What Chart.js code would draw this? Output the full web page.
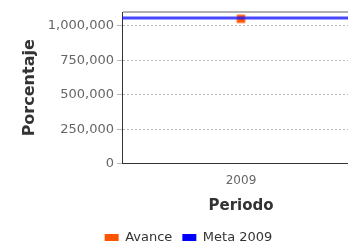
<!DOCTYPE html>
<html>
<head>
<meta charset="utf-8">
<script src="https://cdn.jsdelivr.net/npm/chart.js@4/dist/chart.umd.min.js"></script>
<style>
    html, body { margin: 0; padding: 0; background: #fff; overflow: hidden; }
    #wrap { width: 377px; height: 244px; position: relative; }
</style>
</head>
<body>
<div id="wrap"><canvas id="grafico"></canvas></div>
<script>
// Datos del gráfico
const periodos = ['', '2009', ''];
const avance = [null, 1050000, null];
const metaValor = 1056000;
const yTicks = [0, 250000, 500000, 750000, 1000000];
const yMax = 1100000;

const meta = periodos.map(() => metaValor);

Chart.defaults.font.family = '"DejaVu Sans", Verdana, sans-serif';
Chart.defaults.font.size = 12;

const ctx = document.getElementById('grafico').getContext('2d');
new Chart(ctx, {
    type: 'line',
    data: {
        labels: periodos,
        datasets: [{
            label: 'Avance',
            data: avance,
            showLine: false,
            pointStyle: 'rect',
            pointRadius: 5.6,
            backgroundColor: '#ff5500',
            borderColor: '#ff8a50',
            borderWidth: 1,
            order: 1
        }, {
            label: 'Meta 2009',
            data: meta,
            pointRadius: 0,
            borderWidth: 3,
            borderColor: 'rgba(25, 25, 255, 0.8)',
            backgroundColor: '#0000ff',
            order: 0
        }]
    },
    options: {
        responsive: true,
        maintainAspectRatio: false,
        animation: false,
        layout: { padding: { top: 12, right: 17, left: 17, bottom: -10 } },
        scales: {
            x: {
                offset: false,
                grid: { display: false, drawTicks: false },
                border: { display: true, color: '#333', width: 1 },
                ticks: { color: '#666', padding: 10, maxRotation: 0, autoSkip: false, font: { size: 12 } },
                title: {
                    display: true,
                    text: 'Periodo',
                    color: '#333',
                    font: { size: 15, weight: 'bold' },
                    padding: { top: -1, bottom: 6 }
                }
            },
            y: {
                min: 0,
                max: yMax,
                afterFit: scale => { scale.width = 105; },
                afterBuildTicks: scale => {
                    scale.ticks = yTicks.concat([yMax]).map(v => ({ value: v }));
                },
                grid: {
                    color: c => c.tick && c.tick.value === yMax ? '#b0b0b0' : '#b8b8b8',
                    lineWidth: c => c.tick && c.tick.value === yMax ? 2 : 1,
                    tickColor: c => c.tick && c.tick.value === yMax ? 'rgba(0,0,0,0)' : '#b8b8b8',
                    tickLength: 5
                },
                border: {
                    display: true,
                    color: '#333',
                    width: 1,
                    dash: c => c.type === 'tick' && c.tick && c.tick.value !== yMax ? [2, 2] : []
                },
                ticks: {
                    color: '#666',
                    padding: 3,
                    font: { size: 13 },
                    callback: v => v === yMax ? '' : v.toLocaleString('en-US')
                },
                title: {
                    display: true,
                    text: 'Porcentaje',
                    color: '#333',
                    font: { size: 16, weight: 'bold' },
                    padding: { top: 3, bottom: 0 }
                }
            }
        },
        plugins: {
            tooltip: { enabled: false },
            legend: {
                position: 'bottom',
                labels: {
                    boxWidth: 14,
                    boxHeight: 7,
                    color: '#333',
                    font: { size: 13 },
                    padding: 10,
                    sort: (a, b) => a.datasetIndex - b.datasetIndex,
                    generateLabels: chart => Chart.defaults.plugins.legend.labels.generateLabels(chart)
                        .map(l => ({ ...l, lineWidth: 0, strokeStyle: 'rgba(0,0,0,0)' }))
                }
            }
        }
    }
});
</script>
</body>
</html>
